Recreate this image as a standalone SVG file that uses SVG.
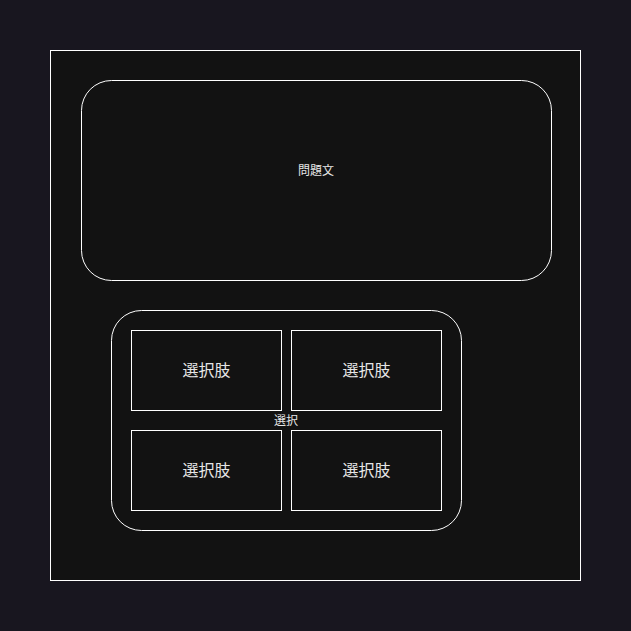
<svg xmlns="http://www.w3.org/2000/svg" width="631" height="631" viewBox="0 0 631 631">
<style>
.box{fill:#121212;stroke:#ffffff;stroke-width:1}
.t{font-family:"Noto Sans CJK JP","Noto Sans CJK SC",sans-serif;fill:#e6e6e6;text-anchor:middle;dominant-baseline:central}
.s{font-size:12px}
.l{font-size:16px}
</style>
<rect x="0" y="0" width="631" height="631" fill="#18161f"/>
<g id="frame">
<rect class="box" x="50.5" y="50.5" width="530" height="530"/>
</g>
<g id="question">
<rect class="box" x="81.5" y="80.5" width="470" height="200" rx="30" ry="30"/>
<text class="t s" x="316" y="169">問題文</text>
</g>
<g id="choices">
<rect class="box" x="111.5" y="310.5" width="350" height="220" rx="30" ry="30"/>
<text class="t s" x="286" y="419">選択</text>
</g>
<g id="choice1">
<rect class="box" x="131.5" y="330.5" width="150" height="80"/>
<text class="t l" x="206.5" y="369">選択肢</text>
</g>
<g id="choice2">
<rect class="box" x="291.5" y="330.5" width="150" height="80"/>
<text class="t l" x="366.5" y="369">選択肢</text>
</g>
<g id="choice3">
<rect class="box" x="131.5" y="430.5" width="150" height="80"/>
<text class="t l" x="206.5" y="469">選択肢</text>
</g>
<g id="choice4">
<rect class="box" x="291.5" y="430.5" width="150" height="80"/>
<text class="t l" x="366.5" y="469">選択肢</text>
</g>
<g id="connectors"></g>
</svg>
